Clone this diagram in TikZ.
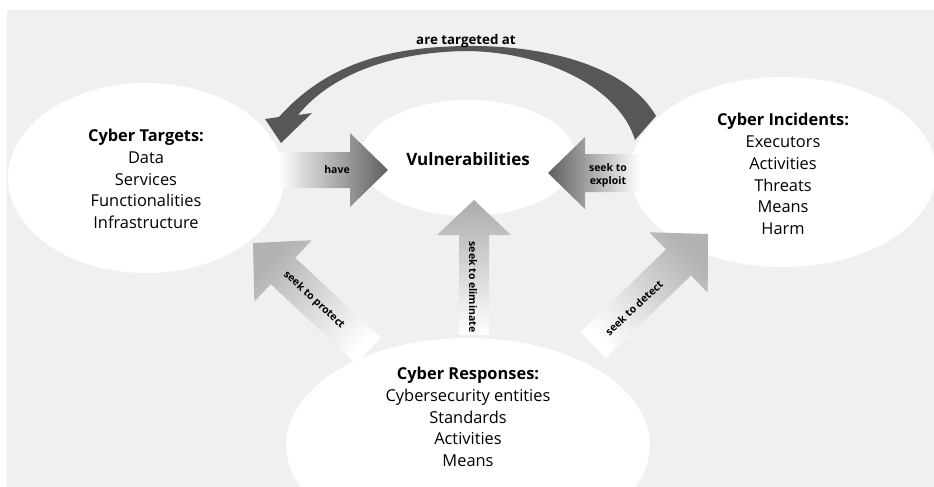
\documentclass[tikz,border=0pt]{standalone}
\usepackage{fontspec}
\setmainfont{Open Sans}
\usetikzlibrary{shapes.geometric}
\def\blockarrow[#1](#2)(#3:#4:#5:#6:#7){\shade[#1, shift={(#2)}, rotate=#3] (0,0) -- (-#7,#6) -- (-#7,#5) -- (-#4,#5) -- (-#4,-#5) -- (-#7,-#5) -- (-#7,-#6) -- cycle;}
\tikzset{
	bubble/.style={ellipse, fill=white, inner sep=0pt},
	bigtext/.style={align=center, inner sep=0pt, font=\fontsize{16.4}{21.7}\selectfont},
	smalllabel/.style={align=center, inner sep=0pt, font=\bfseries\fontsize{10.5}{13}\selectfont},
}

\begin{document}
\begin{tikzpicture}[x=1pt, y=-1pt]
	%%%%% START %%%%%
	\useasboundingbox (0,0) rectangle (934,487);
	\fill[black!6] (7,10) rectangle (934,487);
	
	\begin{scope}
		\clip (7,10) rectangle (934,487);
		\node[bubble, minimum width=276, minimum height=190] (targets) at (146,178) {};
		\node[bubble, minimum width=216, minimum height=116] (vuln) at (468,158) {};
		\node[bubble, minimum width=306, minimum height=190] (incidents) at (783,172) {};
		\node[bubble, minimum width=364, minimum height=214] (responses) at (468,445) {};
	\end{scope}
	
	% block arrows
	\blockarrow[left color=white, right color=black!63](388,170)(0:110:18:37:38);
	\blockarrow[left color=black!63, right color=white](548,173)(180:92:19:36:37);
	\blockarrow[top color=black!33, bottom color=white](474,200)(90:135:15:37:35);
	\blockarrow[top color=black!30, bottom color=white, shading angle=45](253,243)(137:158:18:42:41);
	\blockarrow[top color=black!30, bottom color=white, shading angle=-45](708,234)(44:160:18:42:41);
	
	% curved arrow
	\fill[black!66] (279,117) .. controls (330,60) and (395,47) .. (466,46)
		.. controls (555,45) and (630,70) .. (656,116) -- (635,140)
		.. controls (620,90) and (550,52) .. (466,51)
		.. controls (400,52) and (335,70) .. (298,115) -- (312,113) -- (281,143) -- (265,119) -- cycle;
	
	% texts
	\node[bigtext] (targetstext) at (146,179) {\textbf{Cyber Targets:}\\Data\\Services\\Functionalities\\Infrastructure};
	\node[bigtext, font=\bfseries\fontsize{17}{21.7}\selectfont] (vulntext) at (468,159) {Vulnerabilities};
	\node[bigtext] (incidentstext) at (783,174) {\textbf{Cyber Incidents:}\\Executors\\Activities\\Threats\\Means\\Harm};
	\node[bigtext] (responsestext) at (468,417) {\textbf{Cyber Responses:}\\Cybersecurity entities\\Standards\\Activities\\Means};
	
	\node[smalllabel, font=\bfseries\fontsize{13.3}{15}\selectfont] (targetedlabel) at (466,41) {are targeted at};
	\node[smalllabel] (havelabel) at (337,170) {have};
	\node[smalllabel] (exploitlabel) at (608,175) {seek to\\exploit};
	\node[smalllabel, rotate=-90] (eliminatelabel) at (473,287) {seek to eliminate};
	\node[smalllabel, rotate=-43] (protectlabel) at (314,300) {seek to protect};
	\node[smalllabel, rotate=43] (detectlabel) at (634,308) {seek to detect};
	%%%%% END %%%%%
\end{tikzpicture}
\end{document}
